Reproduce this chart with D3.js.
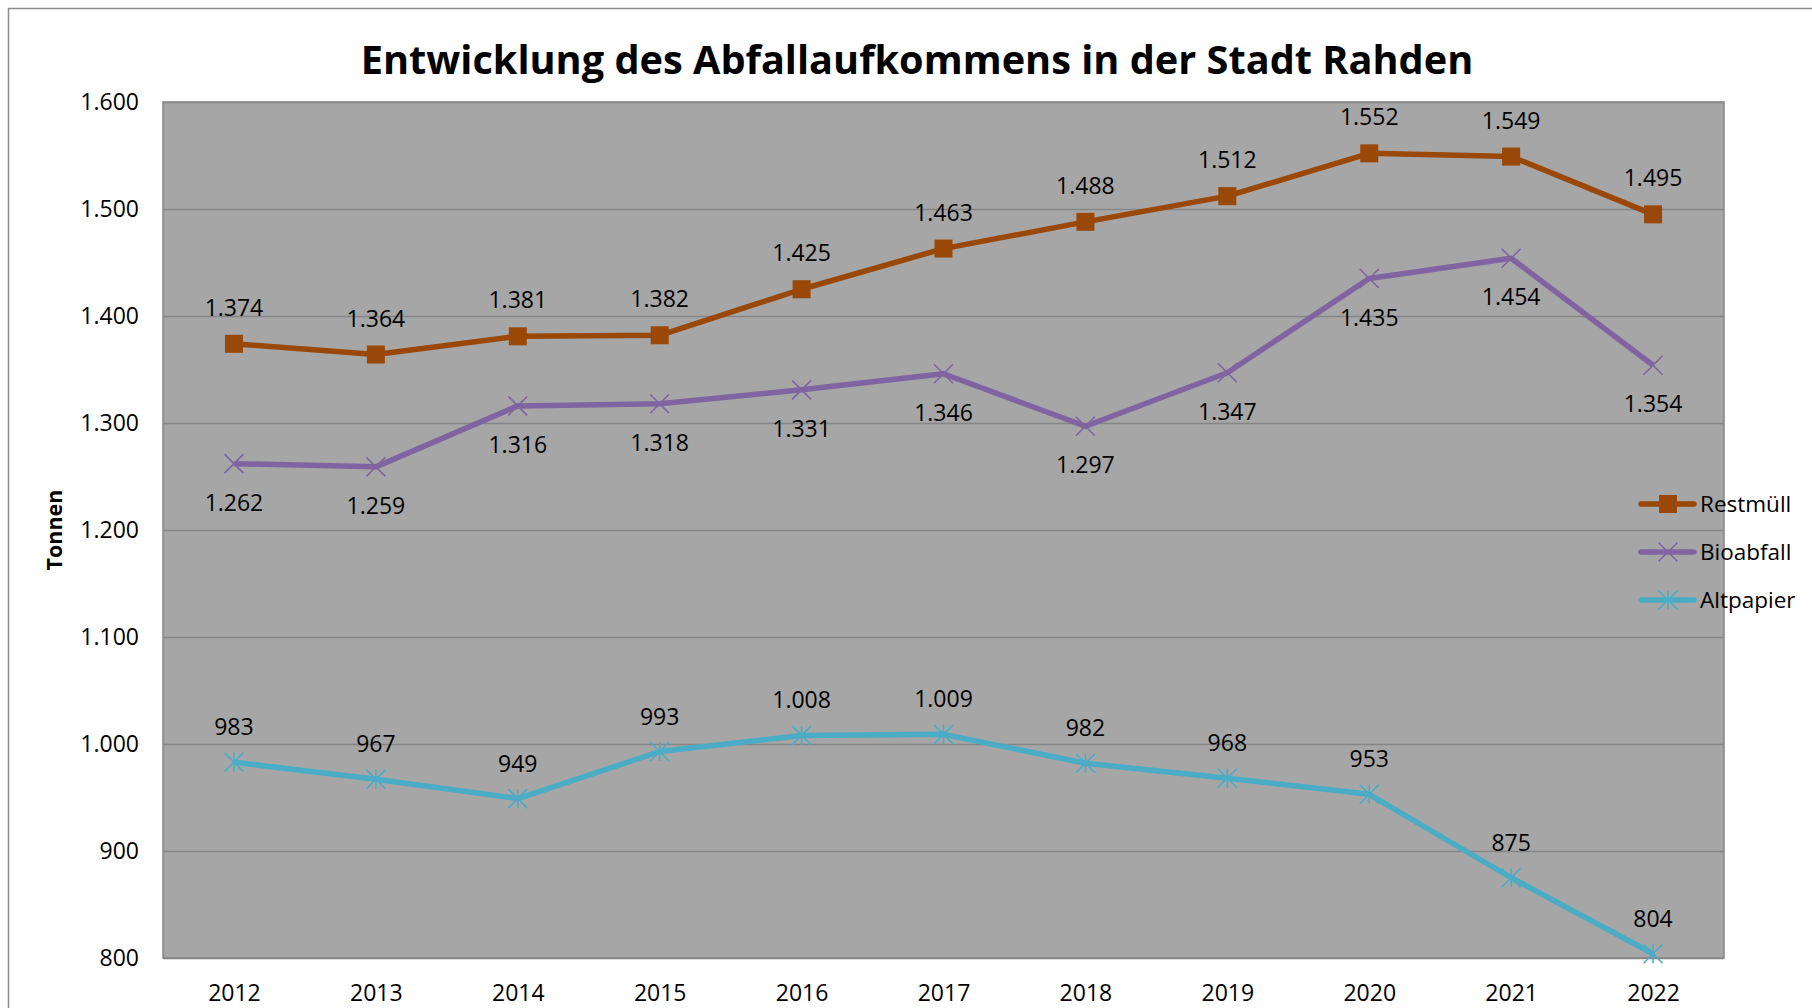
<!doctype html>
<html>
  <head>
    <meta charset="utf-8">
    <script src="https://cdnjs.cloudflare.com/ajax/libs/d3/7.8.5/d3.min.js"></script>
    <style>
      body { margin: 0; background: #fff; }
      text { font-family: "Open Sans", sans-serif; fill: #000; }
    </style>
  </head>
  <body>
    <svg id="chart" width="1812" height="1008"></svg>
    <script>
        // data
        var years = ["2012","2013","2014","2015","2016","2017","2018","2019","2020","2021","2022"];
        var restmuell = [1374,1364,1381,1382,1425,1463,1488,1512,1552,1549,1495];
        var bioabfall = [1262,1259,1316,1318,1331,1346,1297,1347,1435,1454,1354];
        var altpapier = [983,967,949,993,1008,1009,982,968,953,875,804];
        var yTicks = [800,900,1000,1100,1200,1300,1400,1500,1600];

        var series = [
            {name: "Restmüll", values: restmuell, color: "#9a4808", marker: "square", labelDy: -36},
            {name: "Bioabfall", values: bioabfall, color: "#8064a2", marker: "x", labelDy: 39},
            {name: "Altpapier", values: altpapier, color: "#4bacc6", marker: "star", labelDy: -35}
        ];

        var de = d3.formatLocale({decimal: ",", thousands: ".", grouping: [3], currency: ["", " €"]});
        var fmt = de.format(",d");

        var svg = d3.select("#chart");
        var plotLeft = 163, plotRight = 1724, plotTop = 102, plotBottom = 958;

        // outer chart frame (cut off at right and bottom)
        svg.append("path")
            .attr("d", "M8.5,1008 L8.5,8.5 L1812,8.5")
            .style("fill", "none")
            .style("stroke", "#8c8c8c")
            .style("stroke-width", 1.5);

        var xScale = d3.scalePoint().domain(years).range([plotLeft, plotRight]).padding(0.5);
        var yScale = d3.scaleLinear().domain([800, 1600]).range([plotBottom, plotTop]);

        // plot area
        svg.append("rect")
            .attr("x", plotLeft).attr("y", plotTop)
            .attr("width", plotRight - plotLeft).attr("height", plotBottom - plotTop)
            .style("fill", "#a6a6a6")
            .style("stroke", "#858585")
            .style("stroke-width", 1.5);

        // gridlines + y labels
        var yAxis = d3.axisLeft(yScale)
            .tickValues(yTicks)
            .tickFormat(fmt)
            .tickSizeInner(-(plotRight - plotLeft))
            .tickSizeOuter(0)
            .tickPadding(24);
        var yG = svg.append("g").attr("transform", "translate(" + plotLeft + ",0)").call(yAxis);
        yG.select(".domain").remove();
        yG.selectAll("line").style("stroke", "#868686").style("stroke-width", 1.5);
        yG.selectAll("text").style("font-size", "23px").style("font-family", "Open Sans").style("fill", "#000");

        // x labels
        var xAxis = d3.axisBottom(xScale).tickSize(0).tickPadding(0);
        var xG = svg.append("g").attr("transform", "translate(0," + plotBottom + ")").call(xAxis);
        xG.select(".domain").remove();
        xG.selectAll("text")
            .attr("y", 35).attr("dy", "0.35em")
            .style("font-size", "23px").style("font-family", "Open Sans").style("fill", "#000");

        // y axis title
        svg.append("text")
            .attr("transform", "translate(54,530) rotate(-90)")
            .attr("text-anchor", "middle")
            .attr("dy", "0.35em")
            .style("font-size", "21.5px")
            .style("font-weight", "bold")
            .text("Tonnen");

        // title, fitted to width of original
        var title = svg.append("text")
            .attr("x", 917).attr("y", 60)
            .attr("text-anchor", "middle")
            .attr("dy", "0.35em")
            .style("font-size", "40px")
            .style("font-weight", "bold")
            .text("Entwicklung des Abfallaufkommens in der Stadt Rahden");
        var tw = title.node().getComputedTextLength();
        title.style("font-size", (40 * 1113 / tw) + "px");

        function drawMarker(g, type, color) {
            if (type == "square") {
                g.append("rect").attr("x", -9).attr("y", -9).attr("width", 18).attr("height", 18).style("fill", color);
            } else {
                var s = 9.5;
                g.append("path")
                    .attr("d", "M" + (-s) + "," + (-s) + "L" + s + "," + s + "M" + (-s) + "," + s + "L" + s + "," + (-s)
                        + (type == "star" ? "M0," + (-s) + "L0," + s : ""))
                    .style("fill", "none").style("stroke", color).style("stroke-width", 1.6);
            }
        }

        var line = d3.line()
            .x(function(d, i) { return xScale(years[i]); })
            .y(function(d) { return yScale(d); });

        series.forEach(function(s) {
            svg.append("path")
                .attr("d", line(s.values))
                .style("fill", "none")
                .style("stroke", s.color)
                .style("stroke-width", 5.5)
                .style("stroke-linejoin", "round");

            s.values.forEach(function(v, i) {
                var g = svg.append("g").attr("transform", "translate(" + xScale(years[i]) + "," + yScale(v) + ")");
                drawMarker(g, s.marker, s.color);
            });

            svg.append("g").selectAll("text")
                .data(s.values)
                .join("text")
                .attr("x", function(d, i) { return xScale(years[i]); })
                .attr("y", function(d) { return yScale(d) + s.labelDy; })
                .attr("dy", "0.35em")
                .attr("text-anchor", "middle")
                .style("font-size", "23px")
                .text(function(d) { return fmt(d); });
        });

        // legend
        var legend = svg.append("g").attr("transform", "translate(1639,504)");
        series.forEach(function(s, i) {
            var row = legend.append("g").attr("transform", "translate(0," + (i * 48) + ")");
            row.append("line").attr("x1", 2).attr("x2", 55).attr("y1", 0).attr("y2", 0)
                .style("stroke", s.color).style("stroke-width", 5.5).style("stroke-linecap", "round");
            drawMarker(row.append("g").attr("transform", "translate(29,0)"), s.marker, s.color);
            row.append("text").attr("x", 61).attr("y", 0).attr("dy", "0.35em")
                .style("font-size", "22.5px").text(s.name);
        });
    </script>
  </body>
</html>
